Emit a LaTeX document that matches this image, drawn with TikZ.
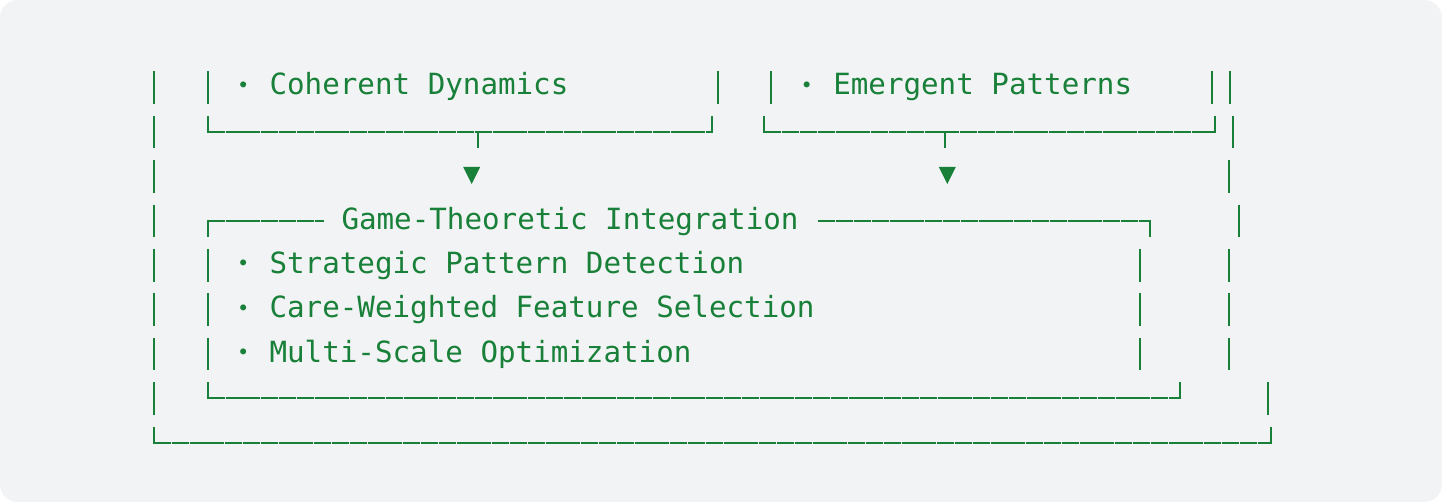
\documentclass[tikz,border=0pt]{standalone}
\usepackage{fontspec}
\setmonofont{DejaVu Sans Mono}
\definecolor{codegreen}{HTML}{188038}
\definecolor{codebg}{HTML}{F1F3F4}
\newcommand{\mybullet}{\makebox[0.602em]{\raisebox{2.5pt}{\scalebox{0.7}{•}}}}
\begin{document}
\begin{tikzpicture}[x=1pt,y=-1pt,
  bar/.style={draw=codegreen, line width=2pt},
  hline/.style={draw=codegreen, line width=2pt, dash pattern=on 17pt off 0.8pt},
  txt/.style={anchor=base west, inner sep=0pt, text=codegreen,
              font=\ttfamily\fontsize{29.2pt}{35pt}\selectfont},
  tri/.style={fill=codegreen}]
\useasboundingbox (0,0) rectangle (1442,502);
\fill[white] (0,0) rectangle (1442,502);
\fill[codebg, rounded corners=18pt] (0,0) rectangle (1442,502);

% outer left bar, rows 1-8
\foreach \s in {71.5,115.9,160.3,204.7,249.1,293.5,337.9,382.3}
  \draw[bar] (154,\s) -- (154,\s+32.5);

% row 1
\foreach \x in {207.7,718.3,771,1211.7,1230}
  \draw[bar] (\x,71.5) -- (\x,104);
\node[txt] (coh) at (234.2,95) {\mybullet{} Coherent Dynamics};
\node[txt] (eme) at (797.9,95) {\mybullet{} Emergent Patterns};

% row 2: bottoms of the two upper boxes
\draw[bar] (207.7,115.9) -- (207.7,132.9);
\draw[hline] (207.7,131.9) -- (712.3,131.9);
\draw[bar] (712.3,115.9) -- (712.3,132.9);
\draw[bar] (477.7,131.9) -- (477.7,148.4);
\draw[bar] (764.3,115.9) -- (764.3,132.9);
\draw[hline] (764.3,131.9) -- (1215.3,131.9);
\draw[bar] (1215.3,115.9) -- (1215.3,132.9);
\draw[bar] (945,131.9) -- (945,148.4);
\draw[bar] (1233.3,115.9) -- (1233.3,148.4);

% row 3: arrows
\fill[tri] (463.2,167) -- (480.2,167) -- (471.7,184) -- cycle;
\fill[tri] (938.8,167) -- (955.8,167) -- (947.3,184) -- cycle;
\draw[bar] (1229,160.3) -- (1229,192.8);

% row 4: top of integration box
\draw[bar] (207.7,219.7) -- (207.7,237.2);
\draw[hline] (207.7,220.7) -- (324,220.7);
\node[txt] (gti) at (341.3,229.2) {Game-Theoretic Integration};
\draw[hline] (818.3,220.7) -- (1150.3,220.7);
\draw[bar] (1150.3,219.7) -- (1150.3,237.2);
\draw[bar] (1238.7,204.7) -- (1238.7,237.2);

% rows 5-7
\foreach \s in {249.1,293.5,337.9}
  \foreach \x in {207.7,1140.3,1228.7}
    \draw[bar] (\x,\s) -- (\x,\s+32.5);
\node[txt] (spd) at (234.2,273.4) {\mybullet{} Strategic Pattern Detection};
\node[txt] (cwf) at (234.2,317.8) {\mybullet{} Care-Weighted Feature Selection};
\node[txt] (mso) at (234.2,362.2) {\mybullet{} Multi-Scale Optimization};

% row 8: bottom of integration box
\draw[bar] (207.7,382.3) -- (207.7,399.3);
\draw[hline] (207.7,398.3) -- (1180,398.3);
\draw[bar] (1180,382.3) -- (1180,399.3);
\draw[bar] (1268.3,382.3) -- (1268.3,414.8);

% row 9: bottom of outer box
\draw[bar] (154,426.7) -- (154,443.7);
\draw[hline] (154,442.7) -- (1271,442.7);
\draw[bar] (1271,426.7) -- (1271,443.7);
\end{tikzpicture}
\end{document}
